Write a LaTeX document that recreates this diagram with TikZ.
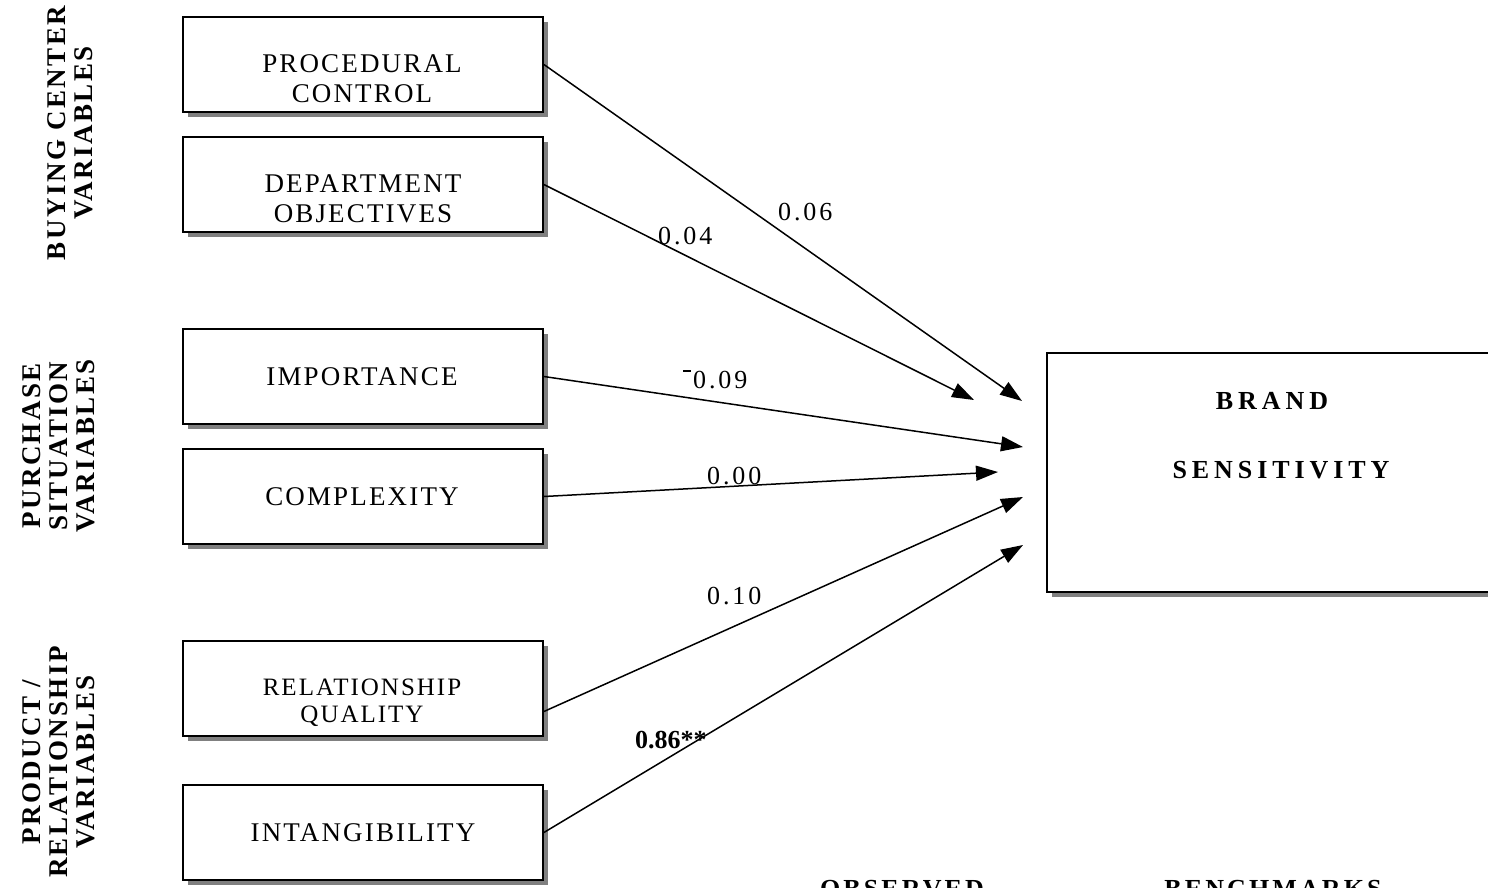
\documentclass[tikz,border=0pt]{standalone}
\usepackage{fontspec}
\setmainfont{Liberation Serif}
\newfontfamily\spc[LetterSpace=11]{Liberation Serif}
\newfontfamily\spcb[LetterSpace=8]{Liberation Serif}
\newfontfamily\spcside[LetterSpace=9]{Liberation Serif}
\newfontfamily\spcs[LetterSpace=12]{Liberation Serif}
\newfontfamily\spcw[LetterSpace=19]{Liberation Serif}
\usetikzlibrary{shadows,arrows.meta}
\begin{document}
\begin{tikzpicture}[x=1pt,y=-1pt,
  box/.style={draw, line width=1.8pt, fill=white, inner sep=0pt,
    minimum width=360pt, minimum height=95pt,
    drop shadow={shadow xshift=4.5pt, shadow yshift=-4.5pt, fill=gray, opacity=1}},
  boxtxt/.style={anchor=base, inner sep=0pt, font=\spcb\fontsize{27}{30}\selectfont},
  smalltxt/.style={anchor=base, inner sep=0pt, font=\spcb\fontsize{25}{27}\selectfont},
  sidetxt/.style={rotate=90, align=center, inner sep=0pt, font=\spcside\bfseries\fontsize{27}{27}\selectfont},
  coef/.style={anchor=base west, inner sep=0pt, font=\spc\fontsize{26}{30}\selectfont},
  bold/.style={anchor=base, inner sep=0pt, font=\spcs\bfseries\fontsize{26}{30}\selectfont},
  brandtxt/.style={anchor=base, inner sep=0pt, font=\spcw\bfseries\fontsize{26}{30}\selectfont},
  arr/.style={line width=1.5pt, -{Triangle[length=22pt,width=15pt]}}]
\useasboundingbox (0,0) rectangle (1488,887);

% side labels
\node[sidetxt] (bcv) at (70,133) {BUYING CENTER\\VARIABLES};
\node[sidetxt] (psv) at (59,446) {PURCHASE\\SITUATION\\VARIABLES};
\node[sidetxt] (prv) at (59,762) {PRODUCT /\\RELATIONSHIP\\VARIABLES};

% boxes
\node[box] (pc) at (363,64.5) {};
\node[box] (do) at (363,184.5) {};
\node[box] (im) at (363,376.5) {};
\node[box] (cx) at (363,496.5) {};
\node[box] (rq) at (363,688.5) {};
\node[box] (in) at (363,832.5) {};
\node[box, minimum width=513pt, minimum height=239pt] (bs) at (1303.5,472.5) {};

% box texts
\node[boxtxt] (pct1) at (362,72) {PROCEDURAL};
\node[boxtxt] (pct2) at (362,102) {CONTROL};
\node[boxtxt] (dot1) at (363,192) {DEPARTMENT};
\node[boxtxt] (dot2) at (363,222) {OBJECTIVES};
\node[boxtxt] (imt) at (362,385) {IMPORTANCE};
\node[boxtxt] (cxt) at (362,505) {COMPLEXITY};
\node[smalltxt] (rqt1) at (362,695) {RELATIONSHIP};
\node[smalltxt] (rqt2) at (362,722) {QUALITY};
\node[boxtxt] (intt) at (363,841) {INTANGIBILITY};
\node[brandtxt] (bst1) at (1272,409) {BRAND};
\node[brandtxt] (bst2) at (1281,478) {SENSITIVITY};

% bottom (cut) headings
\node[bold] (obs) at (902,897) {OBSERVED};
\node[bold] (ben) at (1273,897) {BENCHMARKS};

% arrow targets
\coordinate (t1) at (1022,401);
\coordinate (t2) at (974,400);
\coordinate (t3) at (1023,447);
\coordinate (t4) at (998,472);
\coordinate (t5) at (1023,497);
\coordinate (t6) at (1023,545);

\draw[arr] (pc.east) -- (t1);
\draw[arr] (do.east) -- (t2);
\draw[arr] (im.east) -- (t3);
\draw[arr] (cx.east) -- (t4);
\draw[arr] ([yshift=-23pt]rq.east) -- (t5);
\draw[arr] (in.east) -- (t6);

% coefficients
\node[coef] (c1) at (778,220) {0.06};
\node[coef] (c2) at (658,244) {0.04};
\node[coef] (c3) at (683,388) {\rule[16.5pt]{8pt}{2pt}\kern2pt 0.09};
\node[coef] (c4) at (707,484) {0.00};
\node[coef] (c5) at (707,604) {0.10};
\node[anchor=base west, inner sep=0pt, font=\bfseries\fontsize{26}{30}\selectfont] (c6) at (635,748) {0.86**};
\end{tikzpicture}
\end{document}
